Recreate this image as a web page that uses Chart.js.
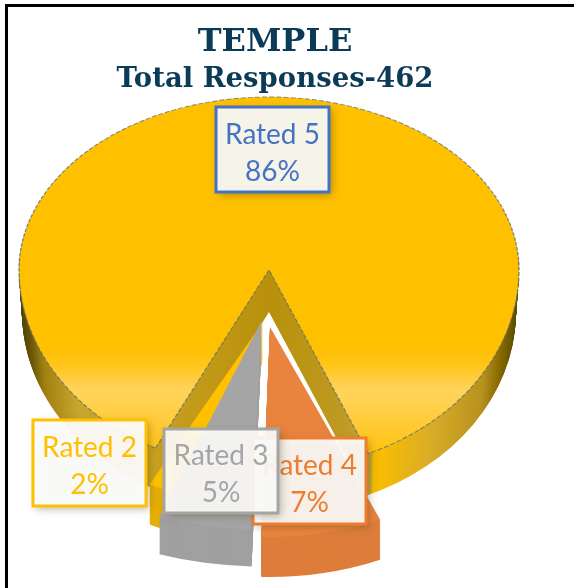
<!DOCTYPE html>
<html><head><meta charset="utf-8">
<style>
html,body{margin:0;padding:0;background:#fff;overflow:hidden}
#frame{position:absolute;left:5px;top:4px;width:600px;height:620px;border:3px solid #000;box-sizing:border-box}
#c{position:absolute;left:0;top:0}
</style>
<script src="https://cdn.jsdelivr.net/npm/chart.js@4"></script>
</head><body>
<div id="frame"></div>
<canvas id="c" width="550" height="588"></canvas>
<script>
const categories = ['Rated 5','Rated 4','Rated 3','Rated 2'];
const shares = [86,7,5,2];
const sliceColors = ['#FFC000','#E9843F','#A5A5A5','#FFC000'];
const labelColors = ['#4472C4','#ED7D31','#A5A5A5','#FFC000'];
const titleText = 'TEMPLE';
const subtitleText = 'Total Responses-462';

// view of each slice: apex position, horizontal scale, vertical scale above / below apex, extrusion depth
const sliceViews = [
  {x:269,y:270,sx:1,syTop:173/250,syBottom:0.8,depth:42,taper:0.012},
  {x:270,y:327,sx:1.11,syTop:0.84,syBottom:0.84,depth:40,taper:0},
  {x:261,y:322,sx:1.2,syTop:0.83,syBottom:0.83,depth:37,taper:0},
  {x:263,y:322,sx:1,syTop:0.73,syBottom:0.73,depth:40,taper:0}
];
const drawOrder = [0,3,2,1];
const labelBoxes = [
  {x:216,y:107,w:113,h:85,fill:'rgba(247,245,238,0.98)'},
  {x:253,y:438,w:113,h:86,fill:'rgba(255,255,255,0.9)'},
  {x:164,y:429,w:114,h:84,fill:'rgba(255,255,255,0.9)'},
  {x:33,y:420,w:113,h:86,fill:'rgba(255,255,255,0.93)'}
];
const labelOrder = [0,3,1,2];
const sideStops = [[19,'#4E4006'],[30,'#6A5608'],[43,'#A0800F'],[77,'#C9A530'],[148,'#CBA222'],
  [269,'#B8900A'],[340,'#BE9A22'],[372,'#C6A238'],[373,'#F4BA04'],[383,'#F6BC06'],[433,'#D8AC28'],
  [483,'#B8921E'],[500,'#8A6C00'],[519,'#5A4A00']];
const topStops = [[345,'#FFC000'],[365,'#FFC518'],[385,'#FFD050'],[393,'#FFD45A'],[430,'#FFC92E'],[460,'#FFC000']];
const R = 250;

function withView(ctx, arc, v, part, dy, shrink, fn){
  const sc = R/arc.outerRadius;
  ctx.save();
  ctx.beginPath();
  if(part==='top') ctx.rect(0,0,600,v.y+dy);
  else ctx.rect(0,v.y+dy,600,700);
  ctx.clip();
  ctx.translate(v.x, v.y+dy);
  ctx.scale(v.sx*sc*shrink, (part==='top'?v.syTop:v.syBottom)*sc);
  ctx.translate(-arc.x,-arc.y);
  fn();
  ctx.restore();
}
function paint(ctx, arc, v, dy, opts){
  const saved = arc.options;
  const shrink = 1 - v.taper*dy/v.depth;
  arc.options = Object.assign({}, saved, opts);
  withView(ctx, arc, v, 'top', dy, shrink, ()=>arc.draw(ctx));
  withView(ctx, arc, v, 'bottom', dy, shrink, ()=>arc.draw(ctx));
  arc.options = saved;
}
function sideFill(ctx, arc, i){
  if(i===0){
    const v = sliceViews[0], sc = R/arc.outerRadius;
    const u = x => arc.x + (x-v.x)/(v.sx*sc);
    const g = ctx.createLinearGradient(u(sideStops[0][0]),0,u(sideStops[sideStops.length-1][0]),0);
    const a = sideStops[0][0], b = sideStops[sideStops.length-1][0];
    sideStops.forEach(s=>g.addColorStop((s[0]-a)/(b-a), s[1]));
    return g;
  }
  return ['','#DE7D3B','#A0A0A0','#E6AE08'][i];
}
function topFill(ctx, arc, i){
  if(i===0){
    const v = sliceViews[0], sc = R/arc.outerRadius;
    const u = y => arc.y + (y-v.y)/(v.syBottom*sc);
    const a = topStops[0][0], b = topStops[topStops.length-1][0];
    const g = ctx.createLinearGradient(0,u(a),0,u(b));
    topStops.forEach(s=>g.addColorStop((s[0]-a)/(b-a), s[1]));
    return g;
  }
  return sliceColors[i];
}
const pie3d = {
  id:'pie3d',
  beforeDatasetsDraw(chart){
    const ctx = chart.ctx, arcs = chart.getDatasetMeta(0).data;
    drawOrder.forEach(i=>{
      const arc = arcs[i], v = sliceViews[i];
      const side = sideFill(ctx,arc,i);
      for(let d=v.depth;d>0;d--) paint(ctx,arc,v,d,{backgroundColor:side,borderWidth:0});
      paint(ctx,arc,v,0,{backgroundColor:topFill(ctx,arc,i),borderWidth:i===0?1.3:0,borderColor:'rgba(100,115,110,0.8)',borderDash:[5,2]});
    });
    return false;
  }
};
const boxLabels = {
  id:'boxLabels',
  afterDraw(chart){
    const ctx = chart.ctx;
    labelOrder.forEach(i=>{
      const b = labelBoxes[i];
      ctx.save();
      ctx.shadowColor='rgba(70,60,20,0.4)'; ctx.shadowBlur=8; ctx.shadowOffsetX=3; ctx.shadowOffsetY=3;
      ctx.fillStyle=b.fill;
      ctx.fillRect(b.x,b.y,b.w,b.h);
      ctx.shadowColor='transparent';
      ctx.strokeStyle=labelColors[i]; ctx.lineWidth=3;
      ctx.strokeRect(b.x,b.y,b.w,b.h);
      ctx.fillStyle=labelColors[i];
      ctx.font='28px Lato'; ctx.textAlign='center'; ctx.textBaseline='middle';
      ctx.fillText(categories[i], b.x+b.w/2, b.y+b.h/2-15);
      ctx.fillText(shares[i]+'%', b.x+b.w/2, b.y+b.h/2+22);
      ctx.restore();
    });
  }
};
new Chart(document.getElementById('c'),{
  type:'pie',
  data:{labels:categories,datasets:[{data:shares,backgroundColor:sliceColors,borderWidth:0}]},
  options:{
    responsive:false,animation:false,rotation:207,
    layout:{padding:0},
    plugins:{
      legend:{display:false},tooltip:{enabled:false},
      title:{display:true,text:titleText,color:'#0B3B57',font:{family:'DejaVu Serif',weight:'bold',size:32},padding:{top:23,bottom:2}},
      subtitle:{display:true,text:subtitleText,color:'#0B3B57',font:{family:'DejaVu Serif',weight:'bold',size:27.5},padding:{top:0,bottom:4}}
    }
  },
  plugins:[pie3d,boxLabels]
});
</script>
</body></html>
